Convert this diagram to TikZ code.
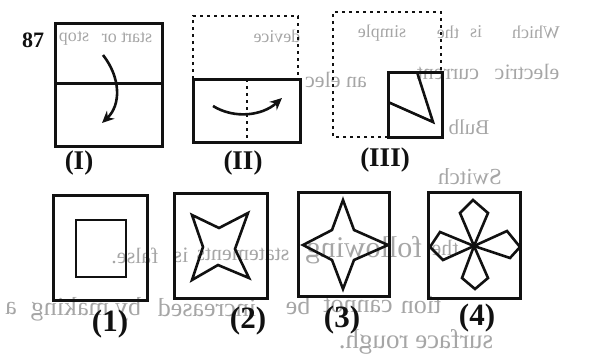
\documentclass[tikz,border=0pt]{standalone}
\usepackage{fontspec}
\setmainfont{Liberation Serif}
\usepackage{graphicx}
\usepackage{tikz}
\usetikzlibrary{arrows.meta}
\definecolor{ink}{HTML}{111111}
\definecolor{bleed}{HTML}{A6A6A6}

\begin{document}
\begin{tikzpicture}[x=1pt,y=1pt,
  box/.style={draw=ink,line width=3pt},
  fig/.style={draw=ink,line width=2.6pt,line join=miter},
  dots/.style={draw=ink,line width=2.8pt,dash pattern=on 3pt off 4pt},
  turn/.style={draw=ink,line width=2.6pt,-{Stealth[length=12pt,width=11pt]}},
  lab/.style={font=\bfseries\fontsize{27}{29}\selectfont,text=ink,inner sep=0pt},
  opt/.style={font=\bfseries\fontsize{31}{33}\selectfont,text=ink,inner sep=0pt},
  ghost/.style={text=bleed,inner sep=0pt}]
\useasboundingbox (0,0) rectangle (596,-356);
% show-through from the back of the page
\node[ghost,font=\fontsize{18}{20}\selectfont] (gwhich) at (536,-32) {\reflectbox{Which}};
\node[ghost,font=\fontsize{18}{20}\selectfont] (gis) at (476,-32) {\reflectbox{is}};
\node[ghost,font=\fontsize{18}{20}\selectfont] (gthe) at (448,-32) {\reflectbox{the}};
\node[ghost,font=\fontsize{18}{20}\selectfont] (gsimple) at (382,-33) {\reflectbox{simple}};
\node[ghost,font=\fontsize{18}{20}\selectfont] (gdevice) at (277,-36) {\reflectbox{device}};
\node[ghost,font=\fontsize{18}{20}\selectfont] (gstart) at (127,-38) {\reflectbox{start or}};
\node[ghost,font=\fontsize{18}{20}\selectfont] (gstop) at (74,-38) {\reflectbox{stop}};
\node[ghost,font=\fontsize{22}{24}\selectfont] (gcurrent) at (448,-73) {\reflectbox{current}};
\node[ghost,font=\fontsize{22}{24}\selectfont] (gelectric) at (527,-72) {\reflectbox{electric}};
\node[ghost,font=\fontsize{22}{24}\selectfont] (gan) at (336,-80) {\reflectbox{an elec}};
\node[ghost,font=\fontsize{21}{23}\selectfont] (gbulb) at (469,-127) {\reflectbox{Bulb}};
\node[ghost,font=\fontsize{23}{25}\selectfont] (gswitch) at (470,-177) {\reflectbox{Switch}};
\node[ghost,font=\fontsize{22}{24}\selectfont] (gfalse) at (135,-256) {\reflectbox{false.}};
\node[ghost,font=\fontsize{22}{24}\selectfont] (gis2) at (181,-255) {\reflectbox{is}};
\node[ghost,font=\fontsize{22}{24}\selectfont] (gstatements) at (243,-254) {\reflectbox{statements}};
\node[ghost,font=\fontsize{30}{32}\selectfont] (gfollowing) at (364,-250) {\reflectbox{following}};
\node[ghost,font=\fontsize{22}{24}\selectfont] (gthe2) at (445,-248) {\reflectbox{the}};
\node[ghost,font=\fontsize{26}{28}\selectfont] (ga) at (11,-309) {\reflectbox{a}};
\node[ghost,font=\fontsize{26}{28}\selectfont] (gmaking) at (70,-309) {\reflectbox{making}};
\node[ghost,font=\fontsize{26}{28}\selectfont] (gby) at (128,-309) {\reflectbox{by}};
\node[ghost,font=\fontsize{26}{28}\selectfont] (gincreased) at (207,-308) {\reflectbox{increased}};
\node[ghost,font=\fontsize{26}{28}\selectfont] (gbe) at (298,-306) {\reflectbox{be}};
\node[ghost,font=\fontsize{26}{28}\selectfont] (gcannot) at (358,-305) {\reflectbox{cannot}};
\node[ghost,font=\fontsize{26}{28}\selectfont] (gtion) at (421,-305) {\reflectbox{tion}};
\node[ghost,font=\fontsize{27}{29}\selectfont] (grough) at (416,-342) {\reflectbox{surface rough.}};
% question number
\node[font=\bfseries\fontsize{22}{24}\selectfont,text=ink,inner sep=0pt] (qnum) at (33,-40) {87};
% (I)
\draw[box] (55,-23) rectangle (162,-146);
\draw[box] (55,-83) -- (162,-83);
\draw[turn] (103,-55) .. controls (121,-78) and (121,-105) .. (102,-123);
\node[lab] (labI) at (79,-163) {(I)};
% (II)
\draw[dots] (193,-79) -- (193,-16) -- (298,-16) -- (298,-79);
\draw[box] (193,-79) rectangle (300,-142);
\draw[dots] (247,-79) -- (247,-142);
\draw[turn] (213,-106) .. controls (234,-119) and (262,-116) .. (282,-98);
\node[lab] (labII) at (243,-163) {(II)};
% (III)
\draw[dots] (388,-137) -- (333,-137) -- (333,-12) -- (441,-12) -- (441,-72);
\draw[box] (388,-72) rectangle (442,-137);
\draw[fig] (417,-72) -- (433,-122) -- (388,-102);
\node[lab] (labIII) at (385,-160) {(III)};
% answer figures
\draw[box] (53,-195) rectangle (147,-300);
\draw[fig] (76,-220) rectangle (126,-277);
\node[opt] (opt1) at (110,-324) {(1)};
\draw[box] (174,-193) rectangle (267,-298);
\draw[fig] (192,-215) -- (219,-228) -- (248,-213) -- (235,-249) -- (249,-278)
  -- (218,-265) -- (192,-280) -- (203,-247) -- cycle;
\node[opt] (opt2) at (248,-321) {(2)};
\draw[box] (298,-192) rectangle (389,-296);
\draw[fig] (343,-200) -- (354,-230) -- (388,-245) -- (354,-260) -- (343,-289)
  -- (332,-260) -- (303,-245) -- (332,-230) -- cycle;
\node[opt] (opt3) at (342,-320) {(3)};
\draw[box] (428,-192) rectangle (520,-298);
\draw[fig] (474,-246) -- (460,-213) -- (473,-200) -- (488,-213) -- cycle;
\draw[fig] (474,-246) -- (462,-278) -- (475,-289) -- (488,-278) -- cycle;
\draw[fig] (474,-246) -- (440,-232) -- (430,-247) -- (443,-260) -- cycle;
\draw[fig] (474,-246) -- (507,-231) -- (520,-247) -- (510,-258) -- cycle;
\node[opt] (opt4) at (477,-318) {(4)};
\end{tikzpicture}
\end{document}
